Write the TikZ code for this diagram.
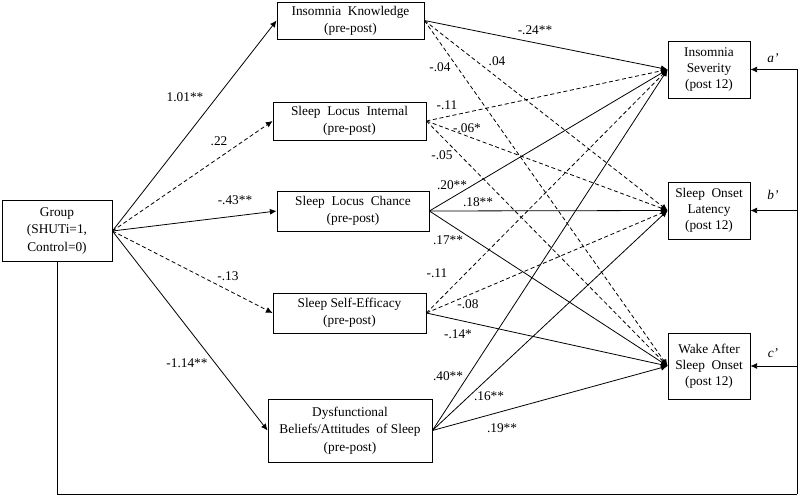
\documentclass[tikz,border=0pt]{standalone}
\usepackage{fontspec}
\setmainfont{Liberation Serif}
\usetikzlibrary{arrows.meta,positioning}

\tikzset{
  box/.style={draw, rectangle, align=center, inner sep=1pt, line width=0.6pt, font=\fontsize{10}{13}\selectfont},
  outbox/.style={box, minimum width=61.5pt, font=\fontsize{10}{12}\selectfont},
  eff/.style={line width=0.6pt, -{Latex[length=5pt,width=4.5pt]}},
  nseff/.style={eff, dash pattern=on 3pt off 2pt},
  coef/.style={inner sep=1pt, font=\fontsize{10}{12}\selectfont},
}

\begin{document}
\begin{tikzpicture}[x=0.75pt, y=-0.75pt]
    \useasboundingbox (0,0) rectangle (800,496);
    % Group and mediators
    \node[box, minimum width=82.5pt, minimum height=45.75pt] (grp) at (57,231) {Group\\(SHUTi=1,\\Control=0)};
    \node[box, minimum width=110.25pt, minimum height=27.75pt] (ik) at (350.5,20.5) {Insomnia \ Knowledge\\(pre-post)};
    \node[box, minimum width=114.75pt, minimum height=28.5pt] (sli) at (349.5,121) {Sleep \ Locus \ Internal\\(pre-post)};
    \node[box, minimum width=114pt, minimum height=30pt] (slc) at (353,211) {Sleep \ Locus \ Chance\\(pre-post)};
    \node[box, minimum width=114.75pt, minimum height=30pt] (sse) at (349.5,313) {Sleep Self-Efficacy\\(pre-post)};
    \node[box, minimum width=123pt, minimum height=47.25pt] (dbas) at (350,430.5) {Dysfunctional\\Beliefs/Attitudes \ of Sleep\\(pre-post)};
    % Outcomes
    \node[outbox, minimum height=42.75pt] (is) at (709,69.5) {Insomnia\\Severity\\(post 12)};
    \node[outbox, minimum height=42.75pt] (sol) at (709,210.5) {Sleep \ Onset\\Latency\\(post 12)};
    \node[outbox, minimum height=49.5pt] (waso) at (709,366) {Wake After\\Sleep \ Onset\\(post 12)};

    % a paths
    \draw[eff] (grp.east) -- (ik.west);
    \draw[nseff] (grp.east) -- (sli.west);
    \draw[eff] (grp.east) -- (slc.west);
    \draw[nseff] (grp.east) -- (sse.west);
    \draw[eff] (grp.east) -- (dbas.west);

    % b paths
    \draw[eff] (ik.east) -- (is.west);
    \draw[nseff] (ik.east) -- (sol.west);
    \draw[nseff] (ik.east) -- (waso.west);
    \draw[nseff] (sli.east) -- (is.west);
    \draw[nseff] (sli.east) -- (sol.west);
    \draw[nseff] (sli.east) -- (waso.west);
    \draw[eff] (slc.east) -- (is.west);
    \draw[eff] (slc.east) -- (sol.west);
    \draw[eff] (slc.east) -- (waso.west);
    \draw[nseff] (sse.east) -- (is.west);
    \draw[nseff] (sse.east) -- (sol.west);
    \draw[eff] (sse.east) -- (waso.west);
    \draw[eff] (dbas.east) -- (is.west);
    \draw[eff] (dbas.east) -- (sol.west);
    \draw[eff] (dbas.east) -- (waso.west);

    % direct paths
    \coordinate (corner) at (797,494);
    \draw[line width=0.6pt] (grp.south) |- (corner);
    \draw[eff] (corner) |- (is.east);
    \draw[eff] (corner |- sol.east) -- (sol.east);
    \draw[eff] (corner |- waso.east) -- (waso.east);

    % coefficients
    \node[coef] (ca1) at (185,97) {1.01**};
    \node[coef] (ca2) at (219,141) {.22};
    \node[coef] (ca3) at (235,200) {-.43**};
    \node[coef] (ca4) at (228,276) {-.13};
    \node[coef] (ca5) at (187,363) {-1.14**};
    \node[coef] (cb11) at (535,30) {-.24**};
    \node[coef] (cb12) at (497,61) {.04};
    \node[coef] (cb13) at (440,67) {-.04};
    \node[coef] (cb21) at (447,105) {-.11};
    \node[coef] (cb22) at (467,128) {-.06*};
    \node[coef] (cb23) at (442,155) {-.05};
    \node[coef] (cb31) at (452,185) {.20**};
    \node[coef] (cb32) at (478,202) {.18**};
    \node[coef] (cb33) at (448,240) {.17**};
    \node[coef] (cb41) at (437,273) {-.11};
    \node[coef] (cb42) at (468,304) {-.08};
    \node[coef] (cb43) at (458,334) {-.14*};
    \node[coef] (cb51) at (448,376) {.40**};
    \node[coef] (cb52) at (489,396) {.16**};
    \node[coef] (cb53) at (502,428) {.19**};
    \node[coef, font=\fontsize{10}{12}\selectfont\itshape] (ap) at (773,58) {a'};
    \node[coef, font=\fontsize{10}{12}\selectfont\itshape] (bp) at (773,195) {b'};
    \node[coef, font=\fontsize{10}{12}\selectfont\itshape] (cp) at (773,353) {c'};
\end{tikzpicture}
\end{document}
